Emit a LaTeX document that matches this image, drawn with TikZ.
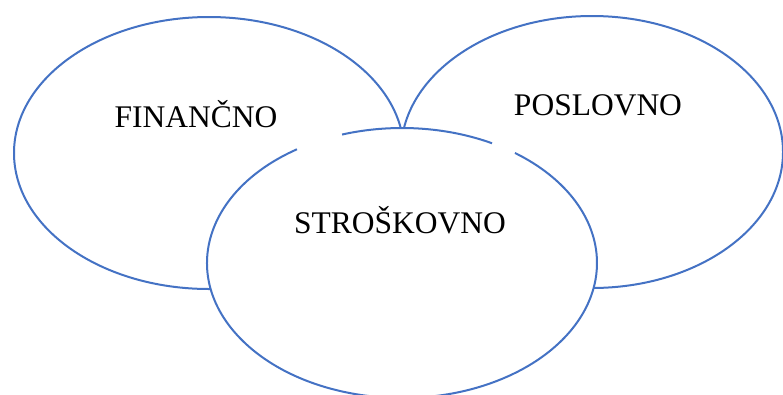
\documentclass[tikz,border=0pt]{standalone}
\usepackage{fontspec}
\setmainfont{Liberation Serif}
\usepackage{tikz}
\usetikzlibrary{shapes.geometric, positioning}
\definecolor{ellBlue}{RGB}{68,114,196}
\tikzstyle{ellLine} = [draw=ellBlue, line width=2pt]
\tikzstyle{ellNode} = [ellipse, minimum width=390pt, minimum height=272pt, ellLine, fill=white]
\tikzstyle{txtNode} = [anchor=base, font=\fontsize{31.5}{36}\selectfont, text=black]

\begin{document}
\begin{tikzpicture}[x=1pt, y=1pt]
        \clip (0,0) rectangle (783,-394);
        \node (fin) [ellNode] at (209,-153) {};
        \node (pos) [ellNode, minimum width=382pt] at (592,-152) {};
        \node (str) [ellNode, draw=none, minimum height=270pt] at (402,-263) {};
        % outline of the front ellipse, with the two breaks at its top
        \draw [ellLine] (str.center) ++(122.6:195 and 135) arc[start angle=122.6, end angle=414.6, x radius=195, y radius=135];
        \draw [ellLine] (str.center) ++(62.5:195 and 135) arc[start angle=62.5, end angle=107.9, x radius=195, y radius=135];
        
        \node (finTxt) [txtNode, xshift=-13pt, yshift=26pt] at (fin.center) {FINANČNO};
        \node (posTxt) [txtNode, xshift=6pt, yshift=37pt] at (pos.center) {POSLOVNO};
        \node (strTxt) [txtNode, xshift=-2pt, yshift=30pt] at (str.center) {STROŠKOVNO};
    \end{tikzpicture}
\end{document}
